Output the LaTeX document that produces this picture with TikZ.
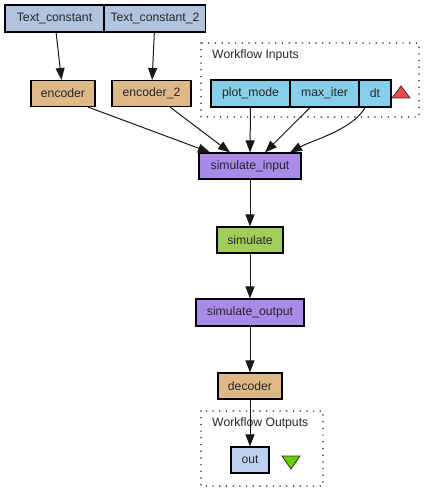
\documentclass[tikz,border=0pt]{standalone}
\usepackage{fontspec}
\setmainfont{Liberation Sans}
\usetikzlibrary{arrows.meta,calc}
\definecolor{constc}{HTML}{B0C4DE}
\definecolor{beanc}{HTML}{DEB887}
\definecolor{inc}{HTML}{87CEEB}
\definecolor{purplec}{HTML}{A98AE8}
\definecolor{greenc}{HTML}{A2CD5A}
\definecolor{outc}{HTML}{BCD2EE}
\definecolor{redtri}{HTML}{F04848}
\definecolor{greentri}{HTML}{66CD00}
\tikzset{
  box/.style={draw=black, line width=1.1pt, rectangle, inner sep=0pt, text=black!85,
    font=\fontsize{12.2}{14}\selectfont, minimum height=26pt},
  edge/.style={line width=1pt, draw=black!90, -{Triangle[length=12pt,width=9pt]}},
  cluster/.style={draw=black!80, line width=1.7pt, line cap=round, dash pattern=on 0pt off 6.7pt},
  clabel/.style={anchor=west, inner sep=0pt, text=black!85, font=\fontsize{12.2}{14}\selectfont},
}
\begin{document}
\begin{tikzpicture}[x=1pt,y=-1pt]
\useasboundingbox[fill=white] (0,0) rectangle (435,500);
% clusters
\draw[cluster] (201,43) rectangle (419,117);
\node[clabel] (inlabel) at (212,55) {Workflow Inputs};
\draw[cluster] (201,411) rectangle (323,486);
\node[clabel] (outlabel) at (212,423) {Workflow Outputs};
% nodes
\node[box, fill=constc, minimum width=99pt, minimum height=27pt] (tc) at (54.5,18.5) {Text\_constant};
\node[box, fill=constc, minimum width=101pt, minimum height=27pt] (tc2) at (155,18.5) {Text\_constant\_2};
\node[box, fill=beanc, minimum width=64pt] (enc) at (63,93.5) {encoder};
\node[box, fill=beanc, minimum width=79pt] (enc2) at (151.5,93.5) {encoder\_2};
\node[box, fill=inc, minimum width=79pt, minimum height=27pt] (pm) at (250.5,93.5) {plot\_mode};
\node[box, fill=inc, minimum width=69pt, minimum height=27pt] (mi) at (324.5,93.5) {max\_iter};
\node[box, fill=inc, minimum width=32pt, minimum height=27pt] (dt) at (375,93.5) {dt};
\node[box, fill=purplec, minimum width=102pt] (si) at (250,166) {simulate\_input};
\node[box, fill=greenc, minimum width=66pt] (sim) at (250,240) {simulate};
\node[box, fill=purplec, minimum width=108pt, minimum height=27pt] (so) at (250,312.5) {simulate\_output};
\node[box, fill=beanc, minimum width=64pt] (dec) at (250,386) {decoder};
\node[box, fill=outc, minimum width=38pt] (out) at (250,460) {out};
% triangles
\draw[fill=redtri, draw=black!80, line width=0.8pt] (401,86) -- (410,98) -- (392,98) -- cycle;
\draw[fill=greentri, draw=black!80, line width=0.8pt] (282,456) -- (300,456) -- (291,469) -- cycle;
% edges
\draw[edge] (tc) -- (enc);
\draw[edge] (tc2) -- (enc2);
\draw[edge] ($(enc.south)+(25,0)$) -- ($(si.north)+(-40,0)$);
\draw[edge] ($(enc2.south)+(18.5,0)$) -- ($(si.north)+(-20,0)$);
\draw[edge] (pm.south) -- (si.north);
\draw[edge] ($(mi.south)+(-14.5,0)$) -- ($(si.north)+(15,0)$);
\draw[edge] ($(dt.south)+(-10,0)$) .. controls ($(dt.south)+(-22,22)$) and ($(si.north)+(62,-12)$) .. ($(si.north)+(40,0)$);
\draw[edge] (si) -- (sim);
\draw[edge] (sim) -- (so);
\draw[edge] (so) -- (dec);
\draw[edge] (dec) -- (out);
\end{tikzpicture}
\end{document}
